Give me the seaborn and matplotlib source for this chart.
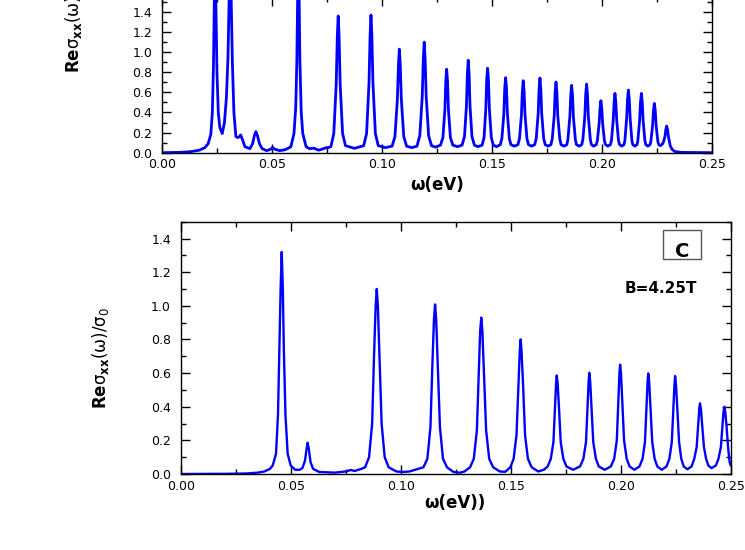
import matplotlib
matplotlib.use("Agg")
import matplotlib.pyplot as plt
import seaborn as sns
import pandas as pd
from matplotlib.patches import Rectangle
from matplotlib.ticker import MultipleLocator, FormatStrFormatter

sns.set_style("ticks")
plt.rcParams.update({
    "font.family": ["DejaVu Sans"],
    "text.color": "black",
    "axes.labelcolor": "black",
    "xtick.color": "black",
    "ytick.color": "black",
    "axes.edgecolor": "black",
    "xtick.direction": "in",
    "ytick.direction": "in",
    "axes.linewidth": 1.0,
})

# Data: omega (eV) and Re sigma_xx / sigma_0
# upper panel (cut off at the top in the reference)
top_omega = [
    0.000, 0.008, 0.013, 0.017, 0.0195, 0.0210, 0.0222, 0.0229, 0.0234, 0.0238, 0.0241, 0.0245, 0.0250, 0.0256, 0.0263, 0.0274,
    0.0284, 0.0293, 0.0300, 0.0306, 0.0310, 0.0314, 0.0320, 0.0327, 0.0336,
    0.0345, 0.0352, 0.0358, 0.0366, 0.0377, 0.0400, 0.0412, 0.0420, 0.0427, 0.0434, 0.0443, 0.0455, 0.0476,
    0.0495, 0.0503, 0.0512, 0.0536, 0.0560, 0.0575,
    0.0586, 0.0600, 0.0608, 0.0613, 0.0617, 0.0620, 0.0623, 0.0627, 0.0633, 0.0640, 0.0655, 0.0670,
    0.0690, 0.0712, 0.0735, 0.0745, 0.0755,
    0.0768, 0.0781, 0.0792, 0.0797, 0.0801, 0.0805, 0.0810, 0.0821, 0.0834, 0.0875,
    0.0917, 0.0930, 0.0941, 0.0946, 0.0950, 0.0954, 0.0959, 0.0970, 0.0983, 0.1015,
    0.1046, 0.1059, 0.1070, 0.1075, 0.1079, 0.1083, 0.1088, 0.1099, 0.1112, 0.1135,
    0.1159, 0.1172, 0.1183, 0.1188, 0.1192, 0.1196, 0.1201, 0.1212, 0.1225, 0.1243,
    0.1266, 0.1277, 0.1286, 0.1290, 0.1294, 0.1298, 0.1302, 0.1311, 0.1322, 0.1343,
    0.1364, 0.1375, 0.1384, 0.1388, 0.1392, 0.1396, 0.1400, 0.1409, 0.1420, 0.1436,
    0.1455, 0.1464, 0.1472, 0.1476, 0.1480, 0.1484, 0.1488, 0.1497, 0.1506, 0.1521,
    0.1538, 0.1545, 0.1554, 0.1558, 0.1562, 0.1566, 0.1570, 0.1579, 0.1586, 0.1602,
    0.1618, 0.1625, 0.1634, 0.1638, 0.1642, 0.1646, 0.1650, 0.1659, 0.1666, 0.1680,
    0.1694, 0.1701, 0.1710, 0.1714, 0.1718, 0.1722, 0.1726, 0.1735, 0.1742, 0.1755,
    0.1768, 0.1774, 0.1783, 0.1787, 0.1791, 0.1795, 0.1799, 0.1808, 0.1814, 0.1827,
    0.1840, 0.1845, 0.1854, 0.1858, 0.1862, 0.1866, 0.1870, 0.1879, 0.1884, 0.1896,
    0.1908, 0.1913, 0.1922, 0.1926, 0.1930, 0.1934, 0.1938, 0.1947, 0.1952, 0.1962,
    0.1974, 0.1979, 0.1987, 0.1991, 0.1995, 0.1999, 0.2003, 0.2011, 0.2016, 0.2027,
    0.2038, 0.2043, 0.2051, 0.2055, 0.2059, 0.2063, 0.2067, 0.2075, 0.2080, 0.2090,
    0.2100, 0.2104, 0.2112, 0.2116, 0.2120, 0.2124, 0.2128, 0.2136, 0.2140, 0.2150,
    0.2159, 0.2163, 0.2171, 0.2175, 0.2179, 0.2183, 0.2187, 0.2195, 0.2199, 0.2209,
    0.2218, 0.2222, 0.2230, 0.2234, 0.2238, 0.2242, 0.2246, 0.2254, 0.2258, 0.2266,
    0.2276, 0.2280, 0.2287, 0.2290, 0.2294, 0.2298, 0.2302, 0.2310, 0.2318, 0.2330, 0.2360, 0.2500,
]
top_re = [
    0.000, 0.003, 0.010, 0.025, 0.050, 0.090, 0.180, 0.400, 0.850, 1.500, 2.200, 1.500, 0.800, 0.400, 0.250, 0.190,
    0.300, 0.550, 0.950, 1.600, 2.200, 1.600, 0.900, 0.400, 0.160,
    0.150, 0.160, 0.176, 0.130, 0.060, 0.040, 0.090, 0.170, 0.210, 0.170, 0.090, 0.040, 0.020,
    0.035, 0.053, 0.035, 0.020, 0.030, 0.045,
    0.060, 0.190, 0.450, 0.900, 1.600, 2.300, 1.600, 0.900, 0.400, 0.190, 0.060, 0.040,
    0.045, 0.025, 0.040, 0.050, 0.050,
    0.060, 0.190, 0.680, 1.160, 1.360, 1.160, 0.680, 0.190, 0.070, 0.043,
    0.070, 0.190, 0.690, 1.170, 1.370, 1.170, 0.690, 0.190, 0.070, 0.050,
    0.065, 0.160, 0.530, 0.880, 1.030, 0.880, 0.530, 0.160, 0.065, 0.050,
    0.065, 0.170, 0.560, 0.940, 1.100, 0.940, 0.560, 0.170, 0.070, 0.055,
    0.075, 0.150, 0.430, 0.710, 0.830, 0.710, 0.430, 0.150, 0.075, 0.060,
    0.075, 0.160, 0.470, 0.780, 0.920, 0.780, 0.470, 0.160, 0.075, 0.060,
    0.075, 0.150, 0.440, 0.720, 0.840, 0.720, 0.440, 0.150, 0.075, 0.060,
    0.080, 0.140, 0.390, 0.640, 0.746, 0.640, 0.390, 0.140, 0.080, 0.065,
    0.080, 0.140, 0.380, 0.610, 0.716, 0.610, 0.380, 0.140, 0.080, 0.065,
    0.080, 0.140, 0.390, 0.630, 0.743, 0.630, 0.390, 0.140, 0.080, 0.065,
    0.080, 0.140, 0.370, 0.600, 0.703, 0.600, 0.370, 0.140, 0.080, 0.065,
    0.080, 0.130, 0.360, 0.570, 0.670, 0.570, 0.360, 0.130, 0.080, 0.065,
    0.080, 0.130, 0.360, 0.580, 0.683, 0.580, 0.360, 0.130, 0.080, 0.065,
    0.080, 0.120, 0.290, 0.440, 0.517, 0.440, 0.290, 0.120, 0.080, 0.065,
    0.080, 0.120, 0.320, 0.500, 0.590, 0.500, 0.320, 0.120, 0.080, 0.065,
    0.080, 0.120, 0.340, 0.530, 0.623, 0.530, 0.340, 0.120, 0.080, 0.065,
    0.080, 0.120, 0.320, 0.500, 0.590, 0.500, 0.320, 0.120, 0.080, 0.065,
    0.080, 0.110, 0.270, 0.420, 0.490, 0.420, 0.270, 0.110, 0.080, 0.070,
    0.090, 0.110, 0.170, 0.230, 0.265, 0.230, 0.160, 0.070, 0.035, 0.012, 0.003, 0.000,
]

# lower panel C, B = 4.25 T
bot_omega = [
    0.000, 0.020, 0.030, 0.035, 0.0380, 0.0405, 0.0418, 0.0433, 0.0442, 0.0448, 0.0454, 0.0459, 0.0464, 0.0469, 0.0476, 0.0486, 0.0500, 0.0520, 0.0540,
    0.0553, 0.0565, 0.0572, 0.0577, 0.0582, 0.0590, 0.0602, 0.0630, 0.0700, 0.0750, 0.0774, 0.0790, 0.0820,
    0.0838, 0.0856, 0.0870, 0.0879, 0.0886, 0.0891, 0.0896, 0.0903, 0.0913, 0.0927, 0.0945, 0.0980, 0.1010, 0.1040,
    0.1103, 0.1121, 0.1135, 0.1144, 0.1151, 0.1156, 0.1161, 0.1168, 0.1178, 0.1192, 0.1210, 0.1240, 0.1270, 0.1290,
    0.1315, 0.1332, 0.1346, 0.1355, 0.1361, 0.1366, 0.1371, 0.1378, 0.1388, 0.1402, 0.1420, 0.1450, 0.1475,
    0.1498, 0.1513, 0.1526, 0.1535, 0.1541, 0.1545, 0.1549, 0.1556, 0.1565, 0.1578, 0.1595, 0.1625, 0.1650,
    0.1668, 0.1682, 0.1694, 0.1701, 0.1706, 0.1709, 0.1713, 0.1719, 0.1727, 0.1739, 0.1753, 0.1783,
    0.1815, 0.1830, 0.1842, 0.1849, 0.1854, 0.1857, 0.1861, 0.1867, 0.1875, 0.1887, 0.1900, 0.1927,
    0.1955, 0.1970, 0.1982, 0.1989, 0.1994, 0.1997, 0.2001, 0.2007, 0.2015, 0.2027, 0.2040, 0.2062,
    0.2085, 0.2099, 0.2110, 0.2117, 0.2122, 0.2125, 0.2129, 0.2135, 0.2143, 0.2154, 0.2166, 0.2186,
    0.2208, 0.2221, 0.2232, 0.2239, 0.2244, 0.2247, 0.2251, 0.2257, 0.2265, 0.2275, 0.2286, 0.2303,
    0.2322, 0.2334, 0.2345, 0.2352, 0.2357, 0.2360, 0.2364, 0.2370, 0.2378, 0.2388, 0.2398, 0.2413,
    0.2432, 0.2444, 0.2455, 0.2462, 0.2467, 0.2471, 0.2475, 0.2481, 0.2489, 0.2495, 0.2500,
]
bot_re = [
    0.000, 0.001, 0.003, 0.008, 0.015, 0.030, 0.050, 0.120, 0.350, 0.720, 1.100, 1.320, 1.100, 0.720, 0.350, 0.120, 0.050, 0.025, 0.025,
    0.035, 0.080, 0.150, 0.186, 0.150, 0.070, 0.030, 0.012, 0.008, 0.015, 0.024, 0.018, 0.030,
    0.040, 0.100, 0.300, 0.720, 1.000, 1.100, 1.000, 0.720, 0.300, 0.100, 0.040, 0.015, 0.012, 0.015,
    0.040, 0.090, 0.280, 0.660, 0.920, 1.008, 0.920, 0.660, 0.280, 0.090, 0.040, 0.012, 0.008, 0.015,
    0.040, 0.090, 0.260, 0.610, 0.850, 0.930, 0.850, 0.610, 0.260, 0.090, 0.040, 0.015, 0.013,
    0.040, 0.090, 0.230, 0.530, 0.730, 0.800, 0.730, 0.530, 0.230, 0.090, 0.040, 0.015, 0.025,
    0.045, 0.090, 0.190, 0.400, 0.540, 0.586, 0.540, 0.400, 0.190, 0.090, 0.045, 0.025,
    0.045, 0.090, 0.190, 0.400, 0.550, 0.602, 0.550, 0.400, 0.190, 0.090, 0.045, 0.025,
    0.045, 0.090, 0.200, 0.430, 0.600, 0.650, 0.600, 0.430, 0.200, 0.090, 0.045, 0.025,
    0.045, 0.090, 0.190, 0.400, 0.550, 0.598, 0.550, 0.400, 0.190, 0.090, 0.045, 0.025,
    0.045, 0.090, 0.190, 0.390, 0.530, 0.582, 0.530, 0.390, 0.190, 0.090, 0.045, 0.028,
    0.045, 0.090, 0.160, 0.290, 0.390, 0.420, 0.390, 0.290, 0.160, 0.090, 0.050, 0.035,
    0.050, 0.090, 0.160, 0.280, 0.370, 0.400, 0.370, 0.280, 0.140, 0.070, 0.050,
]

ylabel = r"$\mathbf{Re}\mathrm{\sigma}_\mathbf{xx}\mathrm{(\omega)/\sigma}_0$"
line_color = "#0000ff"

df_top = pd.DataFrame({"omega": top_omega, "re": top_re})
df_bot = pd.DataFrame({"omega": bot_omega, "re": bot_re})


def style_axes(ax, ymax):
    ax.set_xlim(0, 0.25)
    ax.set_ylim(0, ymax)
    ax.xaxis.set_major_locator(MultipleLocator(0.05))
    ax.xaxis.set_minor_locator(MultipleLocator(0.025))
    ax.yaxis.set_major_locator(MultipleLocator(0.2))
    ax.yaxis.set_minor_locator(MultipleLocator(0.1))
    ax.xaxis.set_major_formatter(FormatStrFormatter("%.2f"))
    ax.yaxis.set_major_formatter(FormatStrFormatter("%.1f"))
    ax.tick_params(which="both", direction="in", top=True, right=True,
                   color="black", width=1)
    ax.tick_params(which="major", length=6.5)
    ax.tick_params(which="minor", length=3.5)
    ax.tick_params(axis="y", which="major", labelsize=9, pad=7)
    ax.tick_params(axis="x", which="major", labelsize=9, pad=4)
    for s in ax.spines.values():
        s.set_visible(True)
        s.set_color("black")
        s.set_linewidth(1.0)


fig = plt.figure(figsize=(7.45, 5.5), dpi=100)
# the upper panel runs past the top edge, as in the cropped reference
ax_top = fig.add_axes([0.2174, 0.7224, 0.7383, 0.2833])
ax_bot = fig.add_axes([0.2426, 0.1382, 0.7383, 0.4587])

sns.lineplot(data=df_top, x="omega", y="re", ax=ax_top, color=line_color,
             linewidth=2.0, estimator=None, sort=False)
sns.lineplot(data=df_bot, x="omega", y="re", ax=ax_bot, color=line_color,
             linewidth=1.7, estimator=None, sort=False)

style_axes(ax_top, 1.55)
style_axes(ax_bot, 1.5)

ax_top.set_xlabel("ω(eV)", fontsize=12, fontweight="bold")
ax_bot.set_xlabel("ω(eV))", fontsize=12, fontweight="bold")
ax_top.xaxis.set_label_coords(437 / 745, 1 - 176 / 550, transform=fig.transFigure)
ax_bot.xaxis.set_label_coords(455 / 745, 1 - 494 / 550, transform=fig.transFigure)

ax_top.set_ylabel(ylabel, fontsize=12)
ax_bot.set_ylabel(ylabel, fontsize=12)
ax_top.yaxis.set_label_coords(84 / 745, 1 - 22 / 550, transform=fig.transFigure)
ax_bot.yaxis.set_label_coords(111 / 745, 1 - 358 / 550, transform=fig.transFigure)

# panel tag box and field label
ax_bot.add_patch(Rectangle((0.877, 0.852), 0.069, 0.115, transform=ax_bot.transAxes,
                           fc="white", ec="#555555", lw=1, zorder=5))
ax_bot.text(0.9124, 0.861, "C", transform=ax_bot.transAxes, ha="center",
            va="baseline", fontsize=14, fontweight="bold", zorder=6)
ax_bot.text(0.9387, 0.737, "B=4.25T", transform=ax_bot.transAxes, ha="right",
            va="center", fontsize=11, fontweight="bold")

fig.savefig("out.png", dpi=100)
